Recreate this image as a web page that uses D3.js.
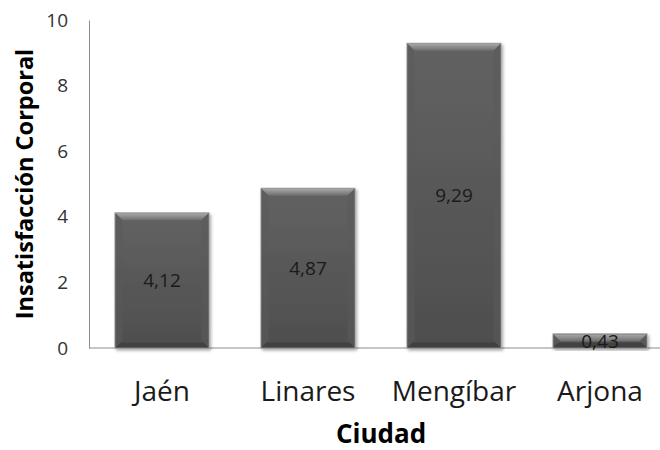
<!DOCTYPE html>
<html><head><meta charset="utf-8">
<script src="https://cdn.jsdelivr.net/npm/d3@7"></script>
<style>body{margin:0;background:#fff}svg{display:block}</style>
</head><body>
<svg id="c" width="660" height="450"></svg>
<script>
const categories = ["Jaén", "Linares", "Mengíbar", "Arjona"];
const values = [4.12, 4.87, 9.29, 0.43];
const yTicks = [0, 2, 4, 6, 8, 10];
const yTitle = "Insatisfacción Corporal";
const xTitle = "Ciudad";

const svg = d3.select("#c");
const font = "'Open Sans', 'Noto Sans', sans-serif";
const x = d3.scaleBand().domain(categories).range([89, 673]).paddingInner(0.356).paddingOuter(0.178);
const y = d3.scaleLinear().domain([0, 10]).range([348, 20]);
const fmt = d3.formatLocale({decimal: ",", thousands: ".", grouping: [3], currency: ["", "€"]}).format(".2f");

const defs = svg.append("defs");
const g1 = defs.append("linearGradient").attr("id", "body").attr("x1", 0).attr("y1", 0).attr("x2", 0).attr("y2", 1);
g1.append("stop").attr("offset", "0%").attr("stop-color", "#626262");
g1.append("stop").attr("offset", "100%").attr("stop-color", "#4e4e4e");
const g2 = defs.append("linearGradient").attr("id", "bevel").attr("x1", 0).attr("y1", 0).attr("x2", 0).attr("y2", 1);
g2.append("stop").attr("offset", "0%").attr("stop-color", "#a8a8a8");
g2.append("stop").attr("offset", "100%").attr("stop-color", "#6c6c6c");
const f = defs.append("filter").attr("id", "sh").attr("x", "-10%").attr("y", "-10%").attr("width", "130%").attr("height", "130%");
f.append("feDropShadow").attr("dx", 1.5).attr("dy", 2).attr("stdDeviation", 1.8).attr("flood-color", "#000").attr("flood-opacity", 0.35);

// axes
const yAxis = svg.append("g").attr("transform", "translate(89,0)")
  .call(d3.axisLeft(y).tickValues(yTicks).tickSize(0).tickPadding(21));
yAxis.select(".domain").attr("stroke", "#8c8c8c").attr("stroke-width", 1);
yAxis.selectAll("text").attr("font-family", font).attr("font-size", 19).attr("fill", "#333");

svg.append("line").attr("x1", 89).attr("x2", 660).attr("y1", y(0)).attr("y2", y(0))
  .attr("stroke", "#8c8c8c").attr("stroke-width", 1);

// bars
const bars = svg.append("g").selectAll("g").data(categories).enter().append("g").attr("filter", "url(#sh)");
bars.append("rect")
  .attr("x", d => x(d)).attr("y", (d, i) => y(values[i]))
  .attr("width", x.bandwidth()).attr("height", (d, i) => y(0) - y(values[i]))
  .attr("fill", "url(#body)").attr("stroke", "#9a9a9a").attr("stroke-width", 1);
bars.append("path")
  .attr("d", (d, i) => {
    const x0 = x(d) + 0.5, x1 = x(d) + x.bandwidth() - 0.5, t = y(values[i]) + 0.5;
    const h = Math.min(7, (y(0) - y(values[i])) / 2);
    return `M${x0},${t}L${x1},${t}L${x1 - h},${t + h}L${x0 + h},${t + h}Z`;
  })
  .attr("fill", "url(#bevel)");
bars.append("path")
  .attr("d", (d, i) => {
    const x0 = x(d) + 0.5, x1 = x(d) + x.bandwidth() - 0.5, t = y(values[i]) + 0.5, b = y(0) - 0.5;
    const h = Math.min(7, (y(0) - y(values[i])) / 2);
    return `M${x0},${t}L${x0 + h},${t + h}L${x0 + h},${b - h}L${x0},${b}Z M${x1},${t}L${x1 - h},${t + h}L${x1 - h},${b - h}L${x1},${b}Z`;
  })
  .attr("fill", "#5a5a5a").attr("opacity", 0.6);
bars.append("path")
  .attr("d", (d, i) => {
    const x0 = x(d) + 0.5, x1 = x(d) + x.bandwidth() - 0.5, b = y(0) - 0.5;
    const h = Math.min(5, (y(0) - y(values[i])) / 2);
    return `M${x0},${b}L${x0 + h},${b - h}L${x1 - h},${b - h}L${x1},${b}Z`;
  })
  .attr("fill", "#3e3e3e").attr("opacity", 0.8);

// data labels
svg.append("g").selectAll("text").data(categories).enter().append("text")
  .attr("x", d => x(d) + x.bandwidth() / 2)
  .attr("y", (d, i) => (y(0) + y(values[i])) / 2)
  .attr("dy", "0.35em").attr("text-anchor", "middle")
  .attr("font-family", font).attr("font-size", 19).attr("fill", "#1a1a1a")
  .text((d, i) => fmt(values[i]));

// category labels
svg.append("g").selectAll("text").data(categories).enter().append("text")
  .attr("x", d => x(d) + x.bandwidth() / 2).attr("y", 401)
  .attr("text-anchor", "middle").attr("font-family", font).attr("font-size", 28).attr("fill", "#1a1a1a")
  .text(d => d);

// titles
svg.append("text").attr("x", (89 + 673) / 2).attr("y", 443).attr("text-anchor", "middle")
  .attr("font-family", font).attr("font-weight", "bold").attr("font-size", 26).attr("fill", "#000")
  .text(xTitle);
svg.append("text").attr("transform", `translate(33,${(y(0) + y(10)) / 2}) rotate(-90)`)
  .attr("text-anchor", "middle").attr("font-family", font).attr("font-weight", "bold").attr("font-size", 23.5).attr("fill", "#000")
  .text(yTitle);
</script>
</body></html>
